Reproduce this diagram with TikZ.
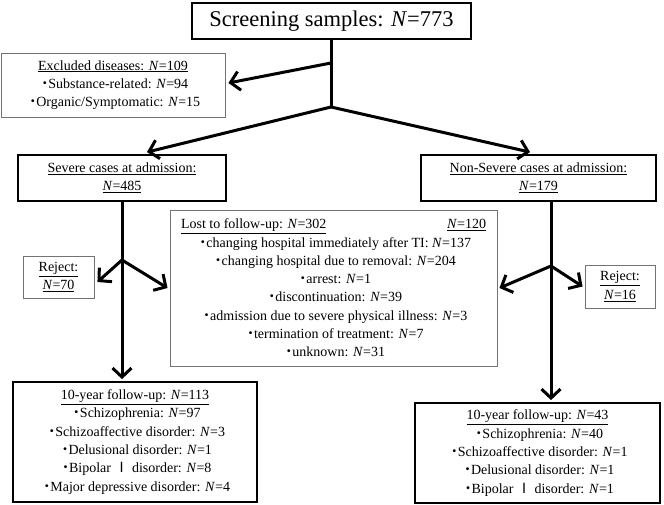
\documentclass[tikz,border=0pt]{standalone}
\usepackage{fontspec}
\setmainfont{Liberation Serif}
\newfontfamily\cjk{Noto Sans CJK JP}
\usetikzlibrary{arrows.meta}
\newcommand{\itm}{{\cjk ・}\hspace{-0.25em}}
\newcommand{\nN}{\textit{N}}
\newcommand{\rone}{{\cjk Ⅰ}}
\begin{document}
\begin{tikzpicture}[
            x=1pt, y=-1pt,
            bigbox/.style={draw, line width=1.8pt, align=center, inner sep=0pt},
            thinbox/.style={draw=black!55, line width=0.9pt, align=center, inner sep=0pt},
            stem/.style={line width=3pt},
            flow/.style={line width=3pt, -{Straight Barb[length=9pt,width=19pt]}},
            txt/.style={font=\fontsize{14}{18.3}\selectfont}
        ]
        \useasboundingbox (0,0) rectangle (664,505);
        \node[bigbox, minimum width=279pt, minimum height=36pt, font=\fontsize{22.5}{26}\selectfont] (screen) at (331.5,21) {Screening samples: \nN=773};
        \node[thinbox, txt, minimum width=224pt, minimum height=64pt] (excl) at (113,85) {\underline{Excluded diseases: \nN=109}\\ \itm Substance-related: \nN=94\\ \itm Organic/Symptomatic: \nN=15};
        \node[bigbox, txt, minimum width=208pt, minimum height=46pt] (severe) at (122,178) {\underline{Severe cases at admission:}\\ \underline{\nN=485}};
        \node[bigbox, txt, minimum width=235pt, minimum height=46pt] (nonsev) at (538.5,178) {\underline{Non-Severe cases at admission:}\\ \underline{\nN=179}};
        \node[thinbox, txt, minimum width=327pt, minimum height=156pt] (lost) at (333.5,288) {\makebox[305pt]{\underline{Lost to follow-up: \nN=302}\hfill\underline{\nN=120}}\\ \itm changing hospital immediately after TI: \nN=137\\ \itm changing hospital due to removal: \nN=204\\ \itm arrest: \nN=1\\ \itm discontinuation: \nN=39\\ \itm admission due to severe physical illness: \nN=3\\ \itm termination of treatment: \nN=7\\ \itm unknown: \nN=31};
        \node[thinbox, txt, minimum width=71pt, minimum height=42pt] (rejL) at (58.5,277) {\underline{Reject:}\\ \underline{\nN=70}};
        \node[thinbox, txt, minimum width=70pt, minimum height=43pt] (rejR) at (620,286.5) {\underline{Reject:}\\ \underline{\nN=16}};
        \node[bigbox, txt, minimum width=244pt, minimum height=120pt] (tenL) at (135,442) {\underline{10-year follow-up: \nN=113}\\ \itm Schizophrenia: \nN=97\\ \itm Schizoaffective disorder: \nN=3\\ \itm Delusional disorder: \nN=1\\ \itm Bipolar \rone\ disorder: \nN=8\\ \itm Major depressive disorder: \nN=4};
        \node[bigbox, txt, minimum width=245pt, minimum height=100pt] (tenR) at (537.5,453) {\underline{10-year follow-up: \nN=43}\\ \itm Schizophrenia: \nN=40\\ \itm Schizoaffective disorder: \nN=1\\ \itm Delusional disorder: \nN=1\\ \itm Bipolar \rone\ disorder: \nN=1};
        % branch points
        \coordinate (exit) at (331,63);
        \coordinate (fork) at (331,107);
        \coordinate (forkL) at (122,260);
        \coordinate (forkR) at (551,266);
        \draw[stem] (screen.south -| fork) -- (fork);
        \draw[flow] (exit) -- ([xshift=3pt,yshift=2pt]excl.east);
        \draw[flow] (fork) -- ([xshift=25pt,yshift=2pt]severe.north);
        \draw[flow] (fork) -- ([xshift=-8.5pt,yshift=2pt]nonsev.north);
        \draw[flow] (severe.south) -- ([yshift=2pt]severe.south |- tenL.north);
        \draw[flow] (forkL) -- ([xshift=3pt,yshift=-5pt]rejL.east);
        \draw[flow] (forkL) -- ([xshift=-2pt]lost.west);
        \draw[flow] (nonsev.south -| forkR) -- ([yshift=2pt]forkR |- tenR.north);
        \draw[flow] (forkR) -- ([xshift=2pt]lost.east);
        \draw[flow] (forkR) -- ([xshift=-2pt]rejR.west);
    \end{tikzpicture}
\end{document}
